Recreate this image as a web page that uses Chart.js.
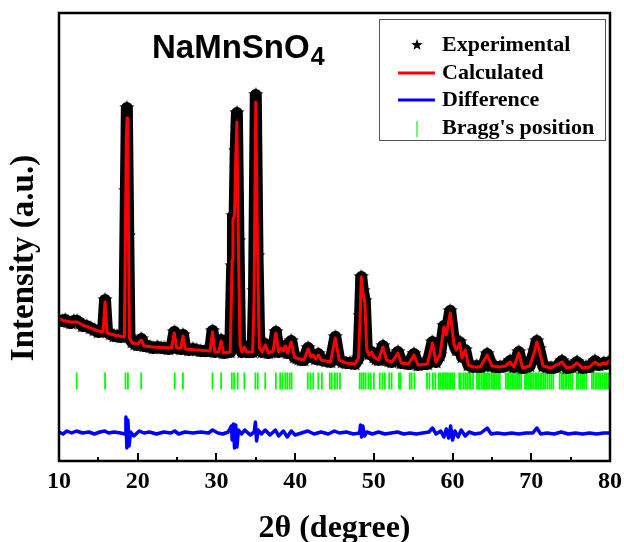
<!DOCTYPE html>
<html lang="en">
<head>
<meta charset="UTF-8">
<title>NaMnSnO4 - Rietveld refinement</title>
<script src="https://cdn.jsdelivr.net/npm/chart.js@4.4.1/dist/chart.umd.min.js"></script>
<style>
  body { margin: 0; background: #fff; }
</style>
</head>
<body>
<canvas id="xrd" width="624" height="542"></canvas>
<script>
// observed pattern (counts)
const obsTheta = [10.0, 10.4, 10.8, 11.15, 11.5, 11.9, 12.3, 12.65, 13.0, 13.5,
  14.0, 14.5, 15.0, 15.3, 15.6, 15.85, 16.1, 16.55, 17.0, 17.4,
  17.85, 18.3, 18.5, 18.62, 18.8, 18.95, 19.3, 19.65, 20.0, 20.45,
  20.8, 21.2, 21.6, 22.0, 22.5, 23.0, 23.4, 23.9, 24.3, 24.65,
  24.95, 25.5, 25.75, 26.05, 26.5, 27.0, 27.5, 28.0, 28.6, 29.2,
  29.5, 29.8, 30.3, 30.6, 30.9, 31.3, 31.75, 32.0, 32.1, 32.3,
  32.45, 32.6, 32.8, 33.0, 33.25, 33.55, 33.8, 34.2, 34.6, 34.78,
  35.0, 35.22, 35.45, 35.8, 36.2, 36.6, 36.9, 37.2, 37.55, 37.9,
  38.2, 38.5, 38.75, 39.05, 39.5, 39.9, 40.2, 40.5, 40.8, 41.1,
  41.65, 42.0, 42.3, 42.6, 42.95, 43.3, 43.9, 44.5, 45.1, 45.6,
  46.0, 46.5, 47.0, 47.6, 48.05, 48.25, 48.4, 48.6, 48.85, 49.1,
  49.4, 49.7, 50.0, 50.3, 50.6, 51.15, 51.6, 51.95, 52.3, 53.05,
  53.5, 53.95, 54.4, 55.1, 55.6, 56.2, 56.8, 57.45, 57.9, 58.4,
  58.9, 59.2, 59.7, 60.2, 60.5, 60.9, 61.2, 61.6, 62.0, 62.6,
  63.05, 63.5, 63.95, 64.4, 65.0, 65.5, 66.0, 66.7, 67.3, 67.8,
  68.4, 68.9, 69.35, 69.8, 70.4, 70.7, 71.0, 71.5, 72.0, 72.5,
  73.2, 73.9, 74.5, 74.85, 75.2, 75.8, 76.5, 76.95, 77.4, 78.1,
  78.6, 79.2, 79.5, 79.75, 80.0];
const observed = [1420, 1400, 1410, 1390, 1380, 1400, 1400, 1380, 1350, 1350,
  1330, 1310, 1290, 1300, 1300, 1610, 1290, 1270, 1250, 1250,
  1240, 1250, 2700, 3530, 2250, 1240, 1190, 1170, 1160, 1220,
  1150, 1150, 1140, 1130, 1140, 1130, 1130, 1120, 1130, 1290,
  1130, 1120, 1260, 1120, 1110, 1120, 1110, 1100, 1100, 1100,
  1300, 1090, 1100, 1210, 1080, 1090, 1090, 1950, 2450, 2400,
  3100, 3480, 2200, 1170, 1090, 1150, 1090, 1090, 1090, 1700,
  3660, 2050, 1140, 1090, 1170, 1080, 1090, 1100, 1290, 1090,
  1140, 1100, 1150, 1080, 1200, 1040, 1030, 1020, 1010, 1010,
  1130, 1040, 1060, 1020, 1070, 1010, 1000, 990, 1240, 1010,
  990, 980, 980, 970, 1030, 1450, 1840, 1700, 1600, 1110,
  1070, 1090, 1040, 1020, 1010, 1150, 1010, 1000, 990, 1090,
  980, 980, 970, 1070, 960, 970, 970, 1190, 990, 1060,
  1350, 1270, 1500, 1170, 1110, 1190, 1040, 1110, 960, 940,
  950, 940, 950, 1070, 950, 940, 940, 950, 1000, 940,
  1090, 930, 940, 950, 1100, 1200, 1120, 950, 940, 930,
  940, 1000, 930, 940, 940, 990, 930, 940, 940, 1000,
  960, 980, 970, 980, 1010];

// calculated profile (counts)
const calcTheta = [10.0, 10.8, 11.5, 12.3, 13.0, 14.0, 15.0, 15.6, 15.85, 16.1, 17.0, 18.3, 18.45, 18.55, 18.65,
  18.75, 18.85, 18.95, 19.3, 20.0, 20.45, 20.8, 22.0, 24.3, 24.65, 24.95, 25.5, 25.75, 26.05, 27.5, 29.2, 29.5,
  29.8, 30.3, 30.6, 30.9, 31.75, 32.0, 32.1, 32.3, 32.45, 32.6, 32.8, 33.0, 33.25, 33.55, 33.8, 34.6, 34.78, 35.0,
  35.22, 35.45, 35.8, 36.2, 36.6, 37.2, 37.55, 37.9, 38.2, 38.5, 38.75, 39.05, 39.5, 39.9, 40.5, 41.1, 41.65,
  42.0, 42.3, 42.6, 42.95, 43.3, 44.5, 45.1, 45.6, 46.5, 47.6, 48.05, 48.25, 48.4, 48.6, 48.85, 49.1, 49.4, 49.7,
  50.0, 50.6, 51.15, 51.6, 52.3, 53.05, 53.5, 54.4, 55.1, 55.6, 56.8, 57.45, 57.9, 58.4, 58.9, 59.2, 59.7, 60.2,
  60.5, 60.9, 61.2, 61.6, 62.0, 62.6, 63.5, 64.4, 65.0, 66.0, 66.7, 67.3, 67.8, 68.4, 68.9, 69.8, 70.4, 70.7,
  71.0, 71.5, 72.5, 73.9, 74.5, 75.2, 75.8, 76.5, 77.4, 78.1, 78.6, 79.2, 79.5, 80.0];
const calculated = [1420, 1400, 1390, 1390, 1360, 1330, 1300, 1290, 1590, 1280, 1260, 1240, 2300, 3250, 3430,
  3200, 2000, 1230, 1180, 1170, 1210, 1150, 1140, 1130, 1280, 1130, 1130, 1250, 1120, 1110, 1100, 1290,
  1090, 1090, 1200, 1080, 1090, 2010, 2410, 2460, 3010, 3390, 2110, 1160, 1090, 1140, 1090, 1090, 1610, 3590,
  2110, 1130, 1090, 1160, 1080, 1100, 1280, 1090, 1130, 1100, 1150, 1080, 1190, 1040, 1020, 1010, 1120,
  1040, 1060, 1020, 1060, 1010, 990, 1230, 1010, 980, 970, 1030, 1410, 1840, 1690, 1590, 1110, 1060, 1090,
  1040, 1010, 1140, 1010, 990, 1080, 980, 970, 1060, 960, 970, 1180, 990, 1060, 1340, 1260, 1480, 1160,
  1110, 1180, 1030, 1110, 960, 940, 940, 1060, 950, 940, 950, 990, 940, 1080, 930, 950, 1090, 1190,
  1110, 950, 930, 990, 930, 940, 980, 930, 940, 990, 960, 980, 970, 1010];

// observed - calculated, shifted down under the pattern
const diffTheta = [10.0, 10.5, 11.0, 11.6, 12.2, 13.0, 13.8, 14.5, 15.2, 15.8, 16.3, 17.0, 17.8, 18.4, 18.5, 18.62,
  18.75, 18.9, 19.1, 19.5, 20.2, 20.8, 21.5, 22.4, 23.3, 24.2, 24.7, 25.2, 26.0, 27.0, 28.0, 29.0, 29.5, 30.2,
  30.8, 31.5, 31.9, 32.0, 32.15, 32.3, 32.45, 32.6, 32.8, 33.2, 33.6, 34.3, 34.8, 34.95, 35.1, 35.3, 35.7, 36.2,
  36.8, 37.5, 37.9, 38.5, 39.0, 39.5, 40.0, 40.8, 41.6, 42.4, 43.3, 44.2, 45.0, 45.6, 46.5, 47.4, 48.2, 48.3,
  48.45, 48.6, 48.8, 49.1, 49.8, 50.6, 51.4, 52.2, 53.0, 53.8, 54.6, 55.4, 56.2, 57.0, 57.45, 57.9, 58.5, 58.9,
  59.2, 59.5, 59.75, 60.0, 60.3, 60.7, 61.1, 61.6, 62.1, 62.8, 63.6, 64.4, 64.9, 65.7, 66.6, 67.5, 68.4, 69.3,
  70.2, 70.7, 71.2, 72.0, 72.9, 73.8, 74.7, 75.6, 76.5, 77.4, 78.3, 79.2, 80.0];
const difference = [290, 270, 300, 280, 300, 280, 290, 270, 290, 300, 280, 290, 280, 270, 440, 130,
  410, 150, 290, 250, 300, 280, 290, 270, 290, 280, 300, 270, 290, 280, 290, 280, 310, 280,
  270, 290, 350, 210, 370, 130, 360, 140, 310, 270, 310, 260, 290, 390, 200, 310, 270, 310,
  260, 310, 250, 300, 240, 300, 260, 280, 300, 270, 290, 270, 300, 280, 290, 270, 280, 360,
  240, 350, 250, 290, 270, 290, 270, 280, 290, 270, 280, 270, 280, 290, 330, 270, 300, 240,
  320, 230, 350, 210, 300, 240, 310, 250, 290, 270, 280, 330, 270, 280, 270, 280, 270, 280,
  280, 330, 270, 280, 270, 290, 270, 280, 270, 280, 270, 280, 280];

// Bragg reflection positions (2theta)
const braggPos = [12.25, 15.85, 18.45, 18.75, 20.45, 24.7, 25.75, 29.5, 30.6, 31.95, 32.25, 32.7, 33.55, 34.95,
  35.25, 36.2, 37.55, 38.1, 38.4, 38.75, 39.0, 39.3, 39.55, 41.6, 41.95, 42.3, 42.95, 43.4, 44.4, 44.65, 45.05,
  45.35, 45.7, 48.2, 48.45, 48.7, 48.95, 49.3, 49.6, 50.0, 50.75, 51.1, 51.4, 51.95, 52.25, 53.2, 53.4, 54.55,
  54.8, 55.15, 56.75, 57.05, 57.5, 57.8, 58.25, 58.45, 58.7, 58.9, 59.1, 59.3, 59.55, 59.75, 59.95, 60.2, 60.85,
  61.05, 61.35, 61.6, 61.85, 62.1, 62.3, 62.6, 63.1, 63.3, 63.45, 63.7, 63.9, 64.1, 64.3, 64.5, 64.7, 64.95,
  65.15, 65.35, 65.55, 65.8, 66.0, 66.75, 66.95, 67.15, 67.4, 67.6, 67.8, 68.05, 68.25, 68.45, 68.7, 69.2, 69.4,
  69.6, 69.85, 70.05, 70.25, 70.5, 70.7, 70.9, 71.15, 71.35, 71.6, 71.8, 72.05, 72.3, 72.55, 72.8, 73.6, 73.85,
  74.05, 74.3, 74.5, 74.75, 75.0, 75.25, 75.8, 76.0, 76.25, 76.5, 76.7, 77.0, 77.7, 77.9, 78.15, 78.35, 78.6,
  78.8, 79.05, 79.3, 79.5, 79.75, 79.95];
const braggLevel = 800;

const serif = "'Liberation Serif', 'Times New Roman', serif";
const sans = "'Liberation Sans', Arial, sans-serif";

// filled five-point star used as the marker for observed points
function makeStar(r) {
  const s = Math.ceil(r * 2 + 2);
  const c = document.createElement('canvas');
  c.width = s;
  c.height = s;
  const g = c.getContext('2d');
  g.fillStyle = '#000';
  g.beginPath();
  for (let i = 0; i < 10; i++) {
    const rad = i % 2 ? r * 0.42 : r;
    const a = -Math.PI / 2 + i * Math.PI / 5;
    const px = s / 2 + rad * Math.cos(a);
    const py = s / 2 + rad * Math.sin(a);
    if (i === 0) g.moveTo(px, py); else g.lineTo(px, py);
  }
  g.closePath();
  g.fill();
  return c;
}
const star = makeStar(8);
const legendStar = makeStar(6);

const toPoints = (xs, ys) => xs.map((x, i) => ({ x: x, y: ys[i] }));

// frame, inward ticks, title, y label and boxed legend
const decorations = {
  id: 'decorations',
  afterDatasetsDraw(chart) {
    const { ctx, chartArea: a, scales: { x } } = chart;
    ctx.save();
    ctx.strokeStyle = '#000';
    ctx.lineWidth = 2;
    for (let v = 10; v <= 80; v += 5) {
      const px = Math.round(x.getPixelForValue(v));
      const len = v % 10 === 0 ? 8 : 4;
      ctx.beginPath();
      ctx.moveTo(px, a.bottom);
      ctx.lineTo(px, a.bottom - len);
      ctx.stroke();
    }
    ctx.lineWidth = 2.5;
    ctx.strokeRect(a.left, a.top, a.right - a.left, a.bottom - a.top);
    ctx.restore();
  },
  afterDraw(chart) {
    const { ctx } = chart;
    ctx.save();
    ctx.fillStyle = '#000';

    // compound name with subscript
    ctx.textBaseline = 'alphabetic';
    ctx.textAlign = 'left';
    ctx.font = 'bold 33px ' + sans;
    ctx.fillText('NaMnSnO', 152, 58);
    const w = ctx.measureText('NaMnSnO').width;
    ctx.font = 'bold 25px ' + sans;
    ctx.fillText('4', 152 + w + 1, 65);

    // y axis label
    ctx.save();
    ctx.translate(24, 258);
    ctx.rotate(-Math.PI / 2);
    ctx.textAlign = 'center';
    ctx.textBaseline = 'middle';
    ctx.font = 'bold 33px ' + serif;
    ctx.fillText('Intensity (a.u.)', 0, 0);
    ctx.restore();

    // legend box
    ctx.fillStyle = '#fff';
    ctx.fillRect(379.5, 19.5, 226, 121);
    ctx.strokeStyle = '#555';
    ctx.lineWidth = 1;
    ctx.strokeRect(379.5, 19.5, 226, 121);

    ctx.drawImage(legendStar, 417 - legendStar.width / 2, 45 - legendStar.height / 2);
    ctx.lineWidth = 3;
    ctx.strokeStyle = '#ff0000';
    ctx.beginPath(); ctx.moveTo(398, 73); ctx.lineTo(435, 73); ctx.stroke();
    ctx.strokeStyle = '#0000ff';
    ctx.beginPath(); ctx.moveTo(398, 100); ctx.lineTo(435, 100); ctx.stroke();
    ctx.lineWidth = 2;
    ctx.strokeStyle = '#66ff66';
    ctx.beginPath(); ctx.moveTo(417, 121); ctx.lineTo(417, 137); ctx.stroke();

    ctx.fillStyle = '#000';
    ctx.font = 'bold 22px ' + serif;
    ctx.textAlign = 'left';
    ctx.textBaseline = 'middle';
    ctx.fillText('Experimental', 442, 45);
    ctx.fillText('Calculated', 442, 73);
    ctx.fillText('Difference', 442, 100);
    ctx.fillText("Bragg's position", 442, 128);
    ctx.restore();
  }
};

new Chart(document.getElementById('xrd'), {
  type: 'scatter',
  data: {
    datasets: [
      {
        label: 'Calculated',
        data: toPoints(calcTheta, calculated),
        showLine: true,
        borderColor: '#ff0000',
        borderWidth: 3,
        borderJoinStyle: 'round',
        pointRadius: 0,
        clip: 0,
        order: 0
      },
      {
        label: 'Experimental',
        data: toPoints(obsTheta, observed),
        showLine: true,
        borderColor: '#000',
        borderWidth: 12,
        borderJoinStyle: 'round',
        pointStyle: star,
        pointRadius: 8,
        clip: 0,
        order: 1
      },
      {
        label: 'Difference',
        data: toPoints(diffTheta, difference),
        showLine: true,
        borderColor: '#0000ff',
        borderWidth: 3.5,
        borderJoinStyle: 'round',
        pointRadius: 0,
        clip: 0,
        order: 2
      },
      {
        label: "Bragg's position",
        data: braggPos.map(p => ({ x: p, y: braggLevel })),
        pointStyle: 'line',
        pointRotation: 90,
        pointRadius: 8.5,
        pointBorderColor: '#00ff00',
        pointBorderWidth: 1.8,
        clip: 0,
        order: 3
      }
    ]
  },
  options: {
    responsive: false,
    animation: false,
    events: [],
    layout: { autoPadding: false, padding: { left: 0, right: 14, top: 13, bottom: 0 } },
    plugins: {
      legend: { display: false },
      tooltip: { enabled: false }
    },
    scales: {
      x: {
        type: 'linear',
        min: 10,
        max: 80,
        grid: { display: false, drawTicks: false },
        border: { display: false },
        ticks: {
          stepSize: 10,
          padding: 6,
          maxRotation: 0,
          color: '#000',
          font: { family: serif, size: 24, weight: 'bold' }
        },
        title: {
          display: true,
          text: '2θ (degree)',
          color: '#000',
          padding: { top: 0, bottom: 0 },
          font: { family: serif, size: 32, weight: 'bold', lineHeight: 0.8 }
        },
        afterFit(scale) {
          scale.height = 81;
          scale.paddingLeft = 0;
          scale.paddingRight = 0;
        }
      },
      y: {
        min: 0,
        max: 4480,
        grid: { display: false, drawTicks: false },
        border: { display: false },
        ticks: { display: false },
        afterFit(scale) {
          scale.width = 59;
          scale.paddingTop = 0;
          scale.paddingBottom = 0;
        }
      }
    }
  },
  plugins: [decorations]
});
</script>
</body>
</html>
